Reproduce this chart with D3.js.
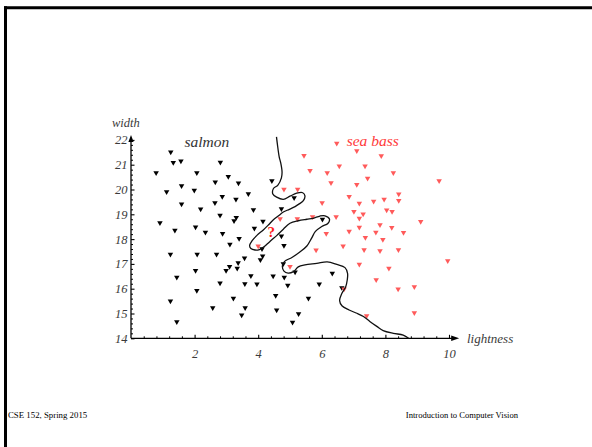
<!DOCTYPE html>
<html>
<head>
<meta charset="utf-8">
<script src="https://cdn.jsdelivr.net/npm/d3@7"></script>
<style>
  html, body { margin: 0; padding: 0; background: #fff; }
  svg { display: block; }
</style>
</head>
<body>
<svg id="chart" width="592" height="447"></svg>
<script>
// ---------- data ----------
const salmonLightness = [1.25,1.33,1.57,2.81,0.79,2.07,3.06,2.65,3.38,1.59,1.12,1.99,2.87,3.30,3.69,1.59,2.64,2.19,2.80,3.31,3.24,0.91,1.38,2.03,2.34,2.88,3.40,4.43,5.13,3.85,4.73,4.15,3.88,4.73,6.02,3.11,1.24,2.08,2.69,3.37,3.10,3.34,2.99,2.03,1.44,2.80,2.07,3.22,1.24,2.57,1.44,4.12,4.81,4.14,4.07,3.57,4.79,5.16,6.33,3.77,4.47,4.82,3.58,3.96,4.93,5.92,6.63,4.55,5.58,3.59,4.58,3.48,5.27,5.08];
const salmonWidth     = [21.51,21.09,21.15,21.10,20.67,20.67,20.52,20.30,20.26,20.15,19.91,19.97,19.71,19.60,19.83,19.41,19.46,19.21,18.96,18.87,18.74,18.66,18.35,18.48,18.27,18.22,18.02,20.35,19.66,19.18,19.22,18.72,18.43,18.12,18.80,17.79,17.39,17.39,17.39,17.04,16.89,16.82,16.73,16.73,16.46,16.23,15.92,15.61,15.50,15.23,14.66,17.61,17.74,17.32,17.16,17.23,17.00,16.67,16.62,16.52,16.51,16.46,16.20,16.19,16.14,16.19,16.04,15.72,15.61,15.23,15.14,14.94,14.99,14.64];

const seaBassLightness = [6.47,7.10,7.87,5.44,6.55,7.36,5.63,6.17,8.25,7.44,6.29,7.10,9.69,4.81,5.24,8.42,6.86,6.01,7.18,7.63,7.96,8.42,7.01,7.30,7.18,8.04,8.21,9.11,6.45,4.69,5.23,5.71,7.83,7.18,8.20,8.57,6.86,7.37,7.70,7.92,6.14,5.82,6.67,7.33,7.83,8.41,7.18,8.11,9.96,5.00,7.71,8.40,8.91,6.70,7.41,8.91,4.00];
const seaBassWidth     = [21.86,21.56,21.36,21.37,20.94,20.94,20.76,20.67,20.67,20.45,20.27,20.20,20.35,20.01,20.01,19.82,19.71,19.46,19.44,19.52,19.60,19.55,19.11,19.01,18.84,19.17,19.11,18.71,18.90,18.82,18.82,18.90,18.58,18.47,18.46,18.26,18.31,18.06,18.27,17.98,18.22,17.56,17.72,17.57,17.53,17.57,16.98,16.82,17.12,16.89,16.36,15.98,16.08,15.98,14.91,15.03,17.72];

const boundaryLightness = [4.575,4.60,4.66,4.71,4.75,4.73,4.62,4.48,4.46,4.58,4.79,5.00,5.21,5.40,5.47,5.42,5.29,5.16,4.98,4.79,4.63,4.47,4.32,4.16,3.96,3.81,3.73,3.77,3.90,4.04,4.17,4.28,4.42,4.59,4.79,5.00,5.26,5.53,5.73,5.94,6.10,6.24,6.19,6.00,5.80,5.68,5.53,5.31,5.06,4.83,4.76,4.81,4.94,5.11,5.26,5.47,5.84,6.17,6.47,6.73,6.81,6.80,6.75,6.63,6.56,6.64,6.86,7.08,7.31,7.52,7.73,7.93,8.25,8.56,8.73];
const boundaryWidth     = [22.12,21.86,21.32,21.06,20.71,20.47,20.18,20.04,19.82,19.69,19.60,19.73,19.85,19.87,19.74,19.55,19.42,19.31,19.20,19.09,18.93,18.77,18.57,18.37,18.15,17.94,17.74,17.62,17.56,17.58,17.68,17.80,17.96,18.15,18.40,18.64,18.74,18.80,18.84,18.93,18.94,18.81,18.63,18.51,18.31,18.04,17.72,17.48,17.26,17.10,16.92,16.71,16.63,16.69,16.88,16.96,17.02,17.08,16.98,16.85,16.62,16.35,16.07,15.81,15.52,15.30,15.14,15.02,14.88,14.67,14.48,14.31,14.20,14.13,14.00];

const xTickValues = [2, 4, 6, 8, 10];
const yTickValues = [14, 15, 16, 17, 18, 19, 20, 21, 22];
const xTitle = "lightness";
const yTitle = "width";
const classNames = ["salmon", "sea bass"];
const queryMark = { lightness: 4.41, width: 18.31, text: "?" };
const footerLeft = "CSE 152, Spring 2015";
const footerRight = "Introduction to Computer Vision";

// ---------- drawing ----------
const svg = d3.select("#chart");
const serif = "'Liberation Serif', 'DejaVu Serif', serif";
const textGray = "#3a3a3a";
const red = "#ff5a5a";

// slide frame
svg.append("line").attr("x1", 4).attr("x2", 592).attr("y1", 7.8).attr("y2", 7.8)
  .attr("stroke", "#000").attr("stroke-width", 3);
svg.append("line").attr("x1", 5.5).attr("x2", 5.5).attr("y1", 6.3).attr("y2", 447)
  .attr("stroke", "#000").attr("stroke-width", 3);

const x = d3.scaleLinear().domain([0, 10]).range([131, 449]);
const y = d3.scaleLinear().domain([14, 22]).range([338.3, 139.9]);

const g = svg.append("g");

// minor ticks
const xMinor = d3.range(0.4, 10.01, 0.4).filter(v => Math.abs(v / 2 - Math.round(v / 2)) > 0.01);
const yMinor = d3.range(14.2, 22.01, 0.2).filter(v => Math.abs(v - Math.round(v)) > 0.01);

g.append("g").attr("transform", `translate(0,${y(14)})`)
  .call(d3.axisBottom(x).tickValues(xMinor).tickSize(-2).tickFormat(""))
  .call(a => a.select(".domain").remove())
  .call(a => a.selectAll("line").attr("stroke", "#000").attr("stroke-width", 1));
g.append("g").attr("transform", `translate(${x(0)},0)`)
  .call(d3.axisLeft(y).tickValues(yMinor).tickSize(-2).tickFormat(""))
  .call(a => a.select(".domain").remove())
  .call(a => a.selectAll("line").attr("stroke", "#000").attr("stroke-width", 1));

// major ticks + labels
g.append("g").attr("transform", `translate(0,${y(14)})`)
  .call(d3.axisBottom(x).tickValues(xTickValues).tickSize(-3.5).tickPadding(11).tickFormat(d3.format("d")))
  .call(a => a.select(".domain").remove())
  .call(a => a.selectAll("line").attr("stroke", "#000").attr("stroke-width", 1.1))
  .call(a => a.selectAll("text").attr("font-family", serif).attr("font-style", "italic")
    .attr("font-size", 12.5).attr("fill", textGray));
g.append("g").attr("transform", `translate(${x(0)},0)`)
  .call(d3.axisLeft(y).tickValues(yTickValues).tickSize(-3.5).tickPadding(3.5).tickFormat(d3.format("d")))
  .call(a => a.select(".domain").remove())
  .call(a => a.selectAll("line").attr("stroke", "#000").attr("stroke-width", 1.1))
  .call(a => a.selectAll("text").attr("font-family", serif).attr("font-style", "italic")
    .attr("font-size", 12.5).attr("fill", textGray));

// axis lines with arrows
const xEnd = 10.32, yEnd = 22.2;
g.append("line").attr("x1", x(0)).attr("x2", x(xEnd) - 4).attr("y1", y(14)).attr("y2", y(14))
  .attr("stroke", "#000").attr("stroke-width", 1.3);
g.append("path")
  .attr("d", `M${x(xEnd)},${y(14)} L${x(xEnd) - 8},${y(14) - 2.8} L${x(xEnd) - 8},${y(14) + 2.8} Z`)
  .attr("fill", "#000");
g.append("line").attr("x1", x(0)).attr("x2", x(0)).attr("y1", y(14)).attr("y2", y(yEnd) + 4)
  .attr("stroke", "#000").attr("stroke-width", 1.3);
g.append("path")
  .attr("d", `M${x(0)},${y(yEnd)} L${x(0) - 2.6},${y(yEnd) + 7} L${x(0) + 2.6},${y(yEnd) + 7} Z`)
  .attr("fill", "#000");

// axis titles
g.append("text").attr("x", 112).attr("y", 126.5).text(yTitle)
  .attr("font-family", serif).attr("font-style", "italic").attr("font-size", 12.5).attr("fill", textGray);
g.append("text").attr("x", 467).attr("y", 343.3).text(xTitle)
  .attr("font-family", serif).attr("font-style", "italic").attr("font-size", 13).attr("fill", textGray);

// class names
g.append("text").attr("x", 206.8).attr("y", 146.5).attr("text-anchor", "middle").text(classNames[0])
  .attr("font-family", serif).attr("font-style", "italic").attr("font-size", 15.5).attr("fill", "#333");
g.append("text").attr("x", 372.7).attr("y", 146).attr("text-anchor", "middle").text(classNames[1])
  .attr("font-family", serif).attr("font-style", "italic").attr("font-size", 15.5).attr("fill", "#ff3a3a");

// points
const tri = d3.symbol().type(d3.symbolTriangle).size(13);
const salmon = salmonLightness.map((l, i) => ({ l, w: salmonWidth[i] }));
const seaBass = seaBassLightness.map((l, i) => ({ l, w: seaBassWidth[i] }));

g.append("g").selectAll("path").data(salmon).join("path")
  .attr("d", tri).attr("transform", d => `translate(${x(d.l)},${y(d.w)}) rotate(180)`)
  .attr("fill", "#000");
g.append("g").selectAll("path").data(seaBass).join("path")
  .attr("d", tri).attr("transform", d => `translate(${x(d.l)},${y(d.w)}) rotate(180)`)
  .attr("fill", red);

// decision boundary
const boundary = boundaryLightness.map((l, i) => [x(l), y(boundaryWidth[i])]);
g.append("path").attr("d", d3.line().curve(d3.curveCatmullRom.alpha(0.5))(boundary))
  .attr("fill", "none").attr("stroke", "#111").attr("stroke-width", 1.3);

// question mark
g.append("text").attr("x", x(queryMark.lightness)).attr("y", y(queryMark.width) + 5.5)
  .attr("text-anchor", "middle").text(queryMark.text)
  .attr("font-family", serif).attr("font-weight", "bold").attr("font-size", 15).attr("fill", "#ff1a1a");

// footer
svg.append("text").attr("x", 8).attr("y", 417.5).text(footerLeft)
  .attr("font-family", serif).attr("font-size", 8.8).attr("fill", "#000");
svg.append("text").attr("x", 518).attr("y", 417.5).attr("text-anchor", "end").text(footerRight)
  .attr("font-family", serif).attr("font-size", 8.6).attr("fill", "#000");
</script>
</body>
</html>
